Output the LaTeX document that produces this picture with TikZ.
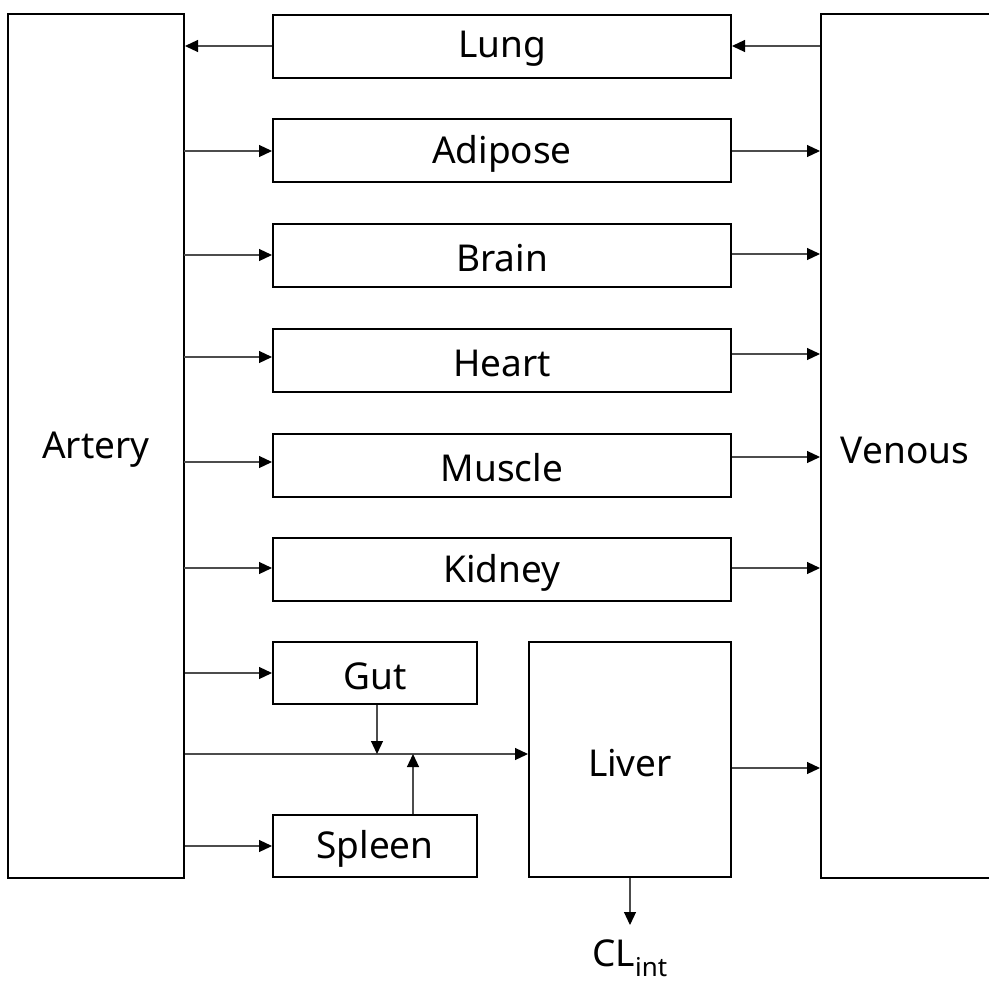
\documentclass[tikz,border=0pt]{standalone}
\usepackage{fontspec}
\setmainfont{Noto Sans}
\usetikzlibrary{arrows.meta}
\begin{document}
\begin{tikzpicture}[x=1pt,y=-1pt,
  box/.style={draw=black,line width=2pt,inner sep=0pt},
  lbl/.style={font=\fontsize{37}{42}\selectfont},
  conn/.style={draw=black!70,line width=1.2pt,-{Triangle[length=13pt,width=12pt,color=black]}}]
\useasboundingbox (0,0) rectangle (989,983);
% big boxes
\node[box,minimum width=176pt,minimum height=864pt] (artery) at (96,446) {};
\node[lbl] at (96,450) {Artery};
\node[box,minimum width=172pt,minimum height=864pt] (venous) at (907,446) {};
\node[lbl] at (905,450) {Venous};
% organ boxes
\foreach \n/\t/\yc in {lung/Lung/46, adipose/Adipose/150.5, brain/Brain/255.5, heart/Heart/360, muscle/Muscle/465, kidney/Kidney/569.5}{
  \node[box,minimum width=458pt,minimum height=63pt] (\n) at (502,\yc) {};
  \node[lbl] at (502,\yc+3) {\t};
}
\node[box,minimum width=204pt,minimum height=62pt] (gut) at (375,673) {};
\node[lbl] at (375,676) {Gut};
\node[box,minimum width=204pt,minimum height=62pt] (spleen) at (375,846) {};
\node[lbl] at (375,849) {Spleen};
\node[box,minimum width=202pt,minimum height=235pt] (liver) at (630,759.5) {};
\node[lbl] at (630,763) {Liver};
\node[lbl,inner sep=0pt] (cl) at (630,958) {CL\textsubscript{int}};
% coordinates
\coordinate (gj) at (377,754);
\coordinate (sj) at (413,754);
\coordinate (cle) at (630,925);
% lung
\draw[conn] (lung.west) -- (artery.east |- lung.west);
\draw[conn] (venous.west |- lung.east) -- (lung.east);
% artery -> organs -> venous
\foreach \n/\ya/\yb in {adipose/151/151, brain/255/254, heart/357/354, muscle/462/457, kidney/568/568}{
  \draw[conn] (184,\ya) -- (\n.west |- 0,\ya);
  \draw[conn] (\n.east |- 0,\yb) -- (venous.west |- 0,\yb);
}
\draw[conn] (artery.east |- gut.west) -- (gut.west);
\draw[conn] (artery.east |- spleen.west) -- (spleen.west);
\draw[conn] (artery.east |- gj) -- (liver.west |- gj);
\draw[conn] (gut.south -| gj) -- (gj);
\draw[conn] (spleen.north -| sj) -- (sj);
\draw[conn] (liver.east |- 0,768) -- (venous.west |- 0,768);
\draw[conn] (liver.south) -- (cle);
\end{tikzpicture}
\end{document}
